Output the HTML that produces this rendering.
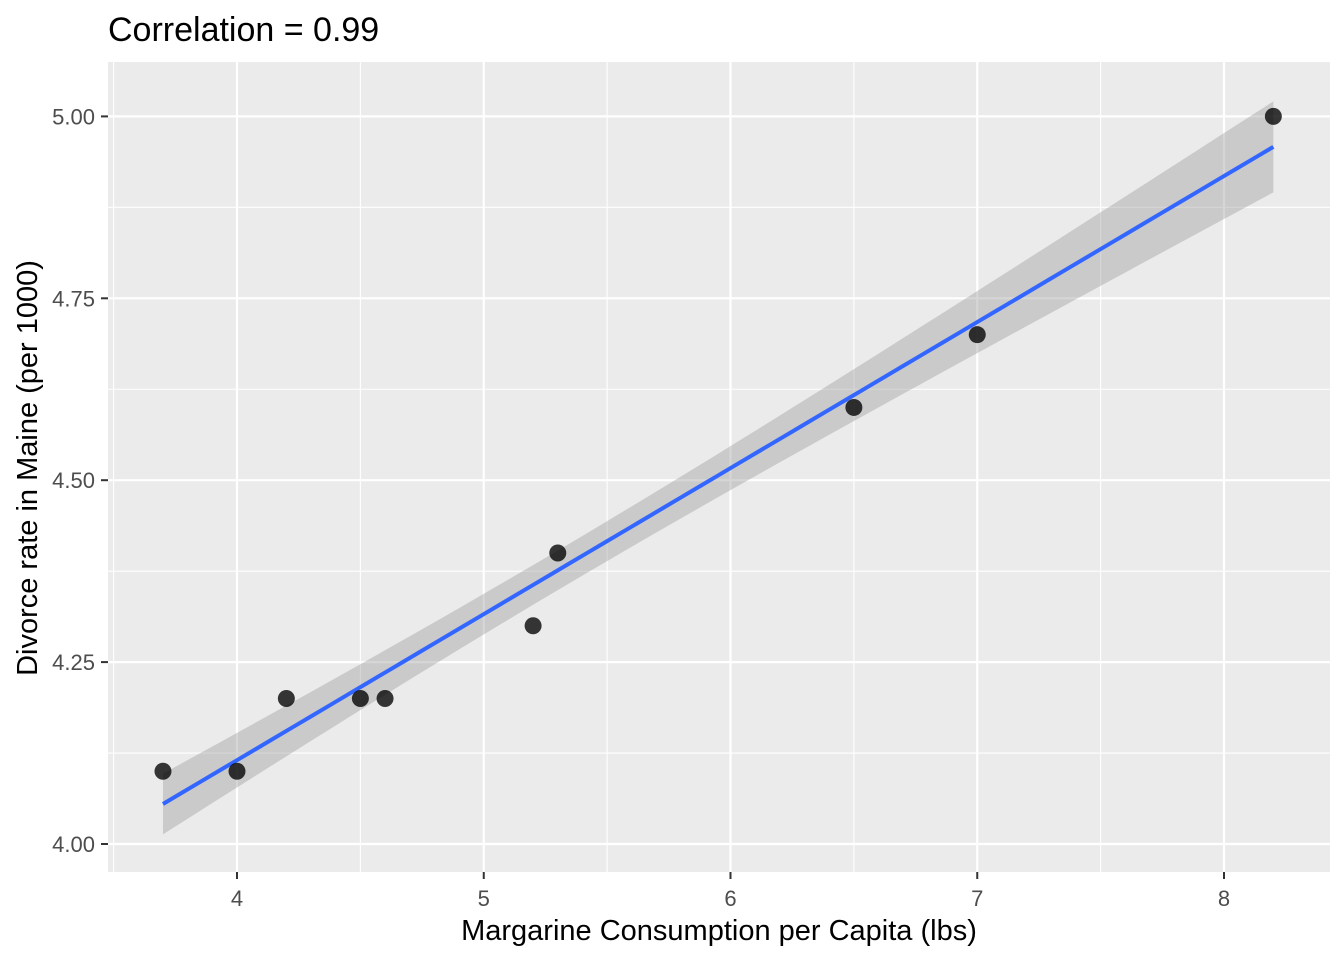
<!DOCTYPE html>
<html><head><meta charset="utf-8"><style>body{margin:0;background:#fff}svg{display:block}</style></head>
<body>
<svg id="s" width="1344" height="960" xmlns="http://www.w3.org/2000/svg" font-family="Liberation Sans, sans-serif">
<rect width="1344" height="960" fill="#fff"/>
<text x="108" y="41" font-size="34" fill="#000">Correlation = 0.99</text>
<rect x="108" y="62" width="1222" height="810" fill="#ebebeb"/>
<g id="g"></g>
</svg>
<script>
const X=v=>237+(v-4)*246.75, Y=v=>844-(v-4)*727.6;
let h='';
[3.5,4.5,5.5,6.5,7.5].forEach(v=>h+=`<line x1="${X(v)}" x2="${X(v)}" y1="62" y2="872" stroke="#fff" stroke-width="1.1"/>`);
[4.125,4.375,4.625,4.875].forEach(v=>h+=`<line y1="${Y(v)}" y2="${Y(v)}" x1="108" x2="1330" stroke="#fff" stroke-width="1.1"/>`);
[4,5,6,7,8].forEach(v=>h+=`<line x1="${X(v)}" x2="${X(v)}" y1="62" y2="872" stroke="#fff" stroke-width="2.2"/><line x1="${X(v)}" x2="${X(v)}" y1="872" y2="879" stroke="#333" stroke-width="2"/><text x="${X(v)}" y="906" font-size="22" fill="#4d4d4d" text-anchor="middle">${v}</text>`);
[4,4.25,4.5,4.75,5].forEach(v=>h+=`<line y1="${Y(v)}" y2="${Y(v)}" x1="108" x2="1330" stroke="#fff" stroke-width="2.2"/><line y1="${Y(v)}" y2="${Y(v)}" x1="101" x2="108" stroke="#333" stroke-width="2"/><text x="95" y="${Y(v)+8}" font-size="22" fill="#4d4d4d" text-anchor="end">${v.toFixed(2)}</text>`);
const f=x=>4.055+0.2007*(x-3.7), hw=x=>0.086*Math.sqrt(0.1+(x-5.32)**2/19.336);
let up=[],lo=[],ln=[];
for(let i=0;i<=60;i++){const x=3.7+4.5*i/60;up.push(X(x)+','+Y(f(x)+hw(x)));lo.unshift(X(x)+','+Y(f(x)-hw(x)));ln.push(X(x)+','+Y(f(x)));}
h+=`<polygon points="${up.concat(lo).join(' ')}" fill="#999" fill-opacity="0.4"/>`;
h+=`<polyline points="${ln.join(' ')}" fill="none" stroke="#3366ff" stroke-width="4"/>`;
[[3.7,4.1],[4,4.1],[4.2,4.2],[4.5,4.2],[4.6,4.2],[5.2,4.3],[5.3,4.4],[6.5,4.6],[7,4.7],[8.2,5.0]].forEach(p=>h+=`<circle cx="${X(p[0])}" cy="${Y(p[1])}" r="8.5" fill="#000" fill-opacity="0.78"/>`);
h+=`<text x="719" y="940" font-size="29" fill="#000" text-anchor="middle">Margarine Consumption per Capita (lbs)</text>`;
h+=`<text transform="translate(37,468) rotate(-90)" font-size="29" fill="#000" text-anchor="middle">Divorce rate in Maine (per 1000)</text>`;
document.getElementById('g').innerHTML=h;
</script>
</body></html>
